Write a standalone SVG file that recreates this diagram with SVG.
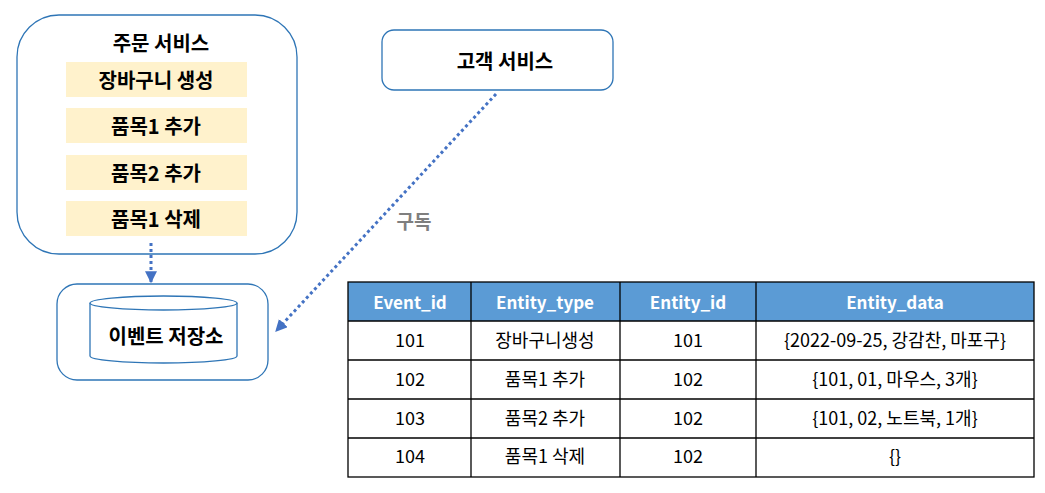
<svg xmlns="http://www.w3.org/2000/svg" width="1045" height="493" viewBox="0 0 1045 493">
<defs>
<style>
text{font-family:"Noto Sans CJK KR","Noto Sans",sans-serif;text-anchor:middle;dominant-baseline:central}
.box{fill:#fff;stroke:#2E75B6;stroke-width:1.3}
.bar{fill:#FFF2CC}
.b{font-weight:bold;font-size:20px;fill:#000}
.hd{font-weight:bold;font-size:17px;fill:#fff}
.cell{font-size:18px;fill:#000}
.conn{stroke:#4472C4;stroke-width:3;stroke-dasharray:3 3;fill:none}
.grid{stroke:#000;stroke-width:1.3;fill:none}
</style>
<marker id="ah" viewBox="0 0 10 10" refX="9" refY="5" markerWidth="4" markerHeight="4" orient="auto" markerUnits="strokeWidth">
<path d="M0,0 L10,5 L0,10 z" fill="#4472C4"/>
</marker>
</defs>
<g id="order-service">
<rect class="box" x="17" y="15" width="280" height="239" rx="42"/>
<text class="b" x="161" y="42">주문 서비스</text>
<rect class="bar" x="66" y="62" width="181" height="35"/>
<text class="b" x="156" y="79">장바구니 생성</text>
<rect class="bar" x="66" y="108" width="181" height="35"/>
<text class="b" x="156" y="125">품목1 추가</text>
<rect class="bar" x="66" y="155" width="181" height="35"/>
<text class="b" x="156" y="172">품목2 추가</text>
<rect class="bar" x="66" y="201" width="181" height="35"/>
<text class="b" x="156" y="218">품목1 삭제</text>
</g>
<g id="event-store">
<rect class="box" x="57" y="284" width="211" height="96" rx="20"/>
<path class="box" d="M90,303 A73.5,7 0 0 1 237,303 L237,356 A73.5,7 0 0 1 90,356 Z"/>
<path class="box" d="M90,303 A73.5,7 0 0 0 237,303" fill="none"/>
<text class="b" x="166" y="335">이벤트 저장소</text>
</g>
<g id="customer-service">
<rect class="box" x="382" y="30" width="231" height="60" rx="12"/>
<text class="b" x="505" y="60">고객 서비스</text>
</g>
<g id="connectors">
<line class="conn" x1="151" y1="243" x2="151" y2="282" marker-end="url(#ah)"/>
<line class="conn" x1="496" y1="94" x2="276" y2="331" marker-end="url(#ah)"/>
<text x="414" y="220" style="font-size:19px;fill:#7F7F7F;font-weight:bold">구독</text>
</g>
<g id="event-table">
<rect x="348" y="282" width="686" height="39" fill="#5B9BD5"/>
<rect class="grid" x="348" y="282" width="686" height="195"/>
<line class="grid" x1="348" y1="321" x2="1034" y2="321"/>
<line class="grid" x1="348" y1="360" x2="1034" y2="360"/>
<line class="grid" x1="348" y1="399" x2="1034" y2="399"/>
<line class="grid" x1="348" y1="438" x2="1034" y2="438"/>
<line class="grid" x1="471" y1="282" x2="471" y2="477" stroke-width="2"/>
<line class="grid" x1="620" y1="282" x2="620" y2="477"/>
<line class="grid" x1="756" y1="282" x2="756" y2="477" stroke-width="2"/>
<text class="hd" x="410" y="301">Event_id</text>
<text class="hd" x="545" y="301">Entity_type</text>
<text class="hd" x="688" y="301">Entity_id</text>
<text class="hd" x="895" y="301">Entity_data</text>
<text class="cell" x="410" y="339">101</text>
<text class="cell" x="545" y="339">장바구니생성</text>
<text class="cell" x="688" y="339">101</text>
<text class="cell" x="895" y="339">{2022-09-25, 강감찬, 마포구}</text>
<text class="cell" x="410" y="378">102</text>
<text class="cell" x="545" y="378">품목1 추가</text>
<text class="cell" x="688" y="378">102</text>
<text class="cell" x="895" y="378">{101, 01, 마우스, 3개}</text>
<text class="cell" x="410" y="417">103</text>
<text class="cell" x="545" y="417">품목2 추가</text>
<text class="cell" x="688" y="417">102</text>
<text class="cell" x="895" y="417">{101, 02, 노트북, 1개}</text>
<text class="cell" x="410" y="455">104</text>
<text class="cell" x="545" y="455">품목1 삭제</text>
<text class="cell" x="688" y="455">102</text>
<text class="cell" x="895" y="455">{}</text>
</g>
</svg>
